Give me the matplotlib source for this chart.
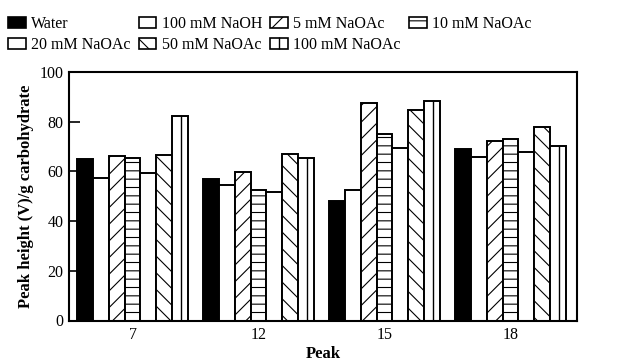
import matplotlib
matplotlib.use("Agg")
import matplotlib.pyplot as plt
import numpy as np
from matplotlib.patches import Patch
from matplotlib.lines import Line2D
from matplotlib.legend_handler import HandlerTuple

peaks = ["7", "12", "15", "18"]
series_names = ["Water", "100 mM NaOH", "5 mM NaOAc", "10 mM NaOAc",
                "20 mM NaOAc", "50 mM NaOAc", "100 mM NaOAc"]
water = [64.9, 57.0, 47.9, 69.0]
naoh100 = [57.2, 54.6, 52.6, 65.6]
naoac5 = [66.3, 59.6, 87.5, 72.3]
naoac10 = [65.2, 52.6, 75.1, 73.0]
naoac20 = [59.3, 51.8, 69.5, 67.9]
naoac50 = [66.7, 67.2, 84.8, 77.7]
naoac100 = [82.3, 65.5, 88.4, 70.4]
values = [water, naoh100, naoac5, naoac10, naoac20, naoac50, naoac100]

faces = ["black", "white", "white", "white", "white", "white", "white"]
hatches = [None, None, "//", "--", None, "\\\\", None]

plt.rcParams["font.family"] = ["Liberation Serif", "DejaVu Serif"]
plt.rcParams["hatch.linewidth"] = 0.8

fig = plt.figure(figsize=(6.36, 3.62), dpi=100)
ax = fig.add_axes([69/636, 1-320.5/362, (577-69)/636, (320.5-72)/362])

x = np.arange(len(peaks))
w = 0.126
n = len(values)
handles = []
for i, (vals, fc, h) in enumerate(zip(values, faces, hatches)):
    pos = x + (i - (n - 1) / 2) * w
    bars = ax.bar(pos, vals, width=w, facecolor=fc, edgecolor="black",
                  linewidth=1.4, hatch=h, zorder=2)
    if i == n - 1:
        for b in bars:
            xl = b.get_x() + 0.55 * b.get_width()
            ax.vlines(xl, 0, b.get_height(), color="black", linewidth=1.0, zorder=3)
        handles.append((Patch(facecolor="white", edgecolor="black", linewidth=1.2),
                        Line2D([], [], marker="|", linestyle="none", color="black",
                               markersize=8, markeredgewidth=1.0)))
    else:
        handles.append(Patch(facecolor=fc, edgecolor="black", linewidth=1.2, hatch=h))

ax.set_xlim(-0.504, 3.528)
ax.set_ylim(0, 100)
ax.set_yticks([0, 20, 40, 60, 80, 100])
ax.set_xticks(x)
ax.set_xticklabels(peaks)
ax.tick_params(axis="y", direction="in", length=8, width=1.2, labelsize=11.5, pad=4)
ax.tick_params(axis="x", length=0, labelsize=11.5, pad=5)
for s in ax.spines.values():
    s.set_linewidth(1.5)

ax.set_xlabel("Peak", fontsize=12, fontweight="bold", labelpad=2)
ax.set_ylabel("Peak height (V)/g carbohydrate", fontsize=12, fontweight="bold", labelpad=4)

order = [0, 4, 1, 5, 2, 6, 3]
fig.legend([handles[k] for k in order], [series_names[k] for k in order],
           loc="upper left", bbox_to_anchor=(8/636, 1-16/362), ncol=4,
           frameon=False, fontsize=11.5, handlelength=1.1, handleheight=0.7,
           handletextpad=0.35, columnspacing=0.5, labelspacing=0.3, borderpad=0,
           borderaxespad=0, handler_map={tuple: HandlerTuple(ndivide=1, pad=0)})

fig.savefig("out.png", dpi=100)
